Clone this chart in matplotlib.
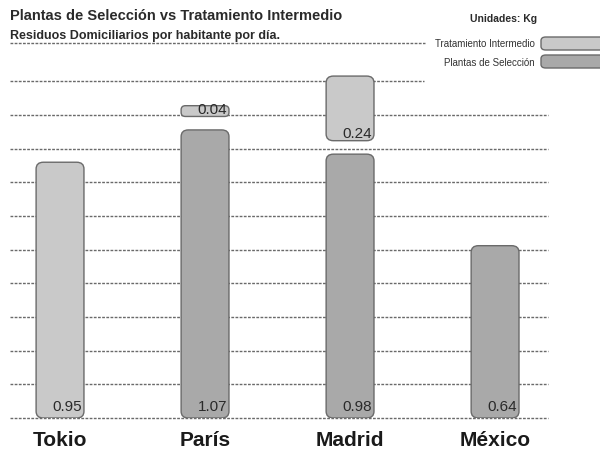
import matplotlib.pyplot as plt
from matplotlib.patches import FancyBboxPatch

plt.rcParams['font.family'] = ['Liberation Sans', 'DejaVu Sans']

cities = ['Tokio', 'París', 'Madrid', 'México']
seleccion = [0.95, 1.07, 0.98, 0.64]
intermedio = [0.0, 0.04, 0.24, 0.0]
bottom_colors = ['#c9c9c9', '#a9a9a9', '#a9a9a9', '#a9a9a9']
grid_vals = [0.125 * i for i in range(11)]

LIGHT = '#c9c9c9'
DARK = '#a9a9a9'
GAP = 0.05
W = 0.33


def rounded(ax, x, y0, h, color, r=0.05):
    box = FancyBboxPatch((x - W / 2, y0), W, h,
                         boxstyle=f'round,pad=0,rounding_size={r}',
                         mutation_aspect=0.5,
                         fc=color, ec='#6a6a6a', lw=1.0, zorder=3)
    ax.add_patch(box)


fig = plt.figure(figsize=(6, 4.51), dpi=100)
ax = fig.add_axes([10 / 600, 33 / 451, 538 / 600, 350 / 451])
ax.set_xlim(-0.345, 3.365)
ax.set_ylim(0, 1.30)
ax.axis('off')

for v in grid_vals:
    xmax = 0.77 if v == grid_vals[-1] else 1.0
    ax.axhline(v, xmin=0, xmax=xmax, color='#6a6a6a', lw=1.0,
               ls=(0, (2, 1)), zorder=1, clip_on=False)

for i, (c, s, t) in enumerate(zip(cities, seleccion, intermedio)):
    rounded(ax, i, 0, s, bottom_colors[i])
    ax.text(i + W / 2 - 0.012, 0.026, f'{s:.2f}', ha='right', va='baseline',
            fontsize=11, color='#2a2a2a', zorder=4)
    if t > 0:
        y0 = s + GAP
        rounded(ax, i, y0, t, LIGHT, r=0.03 if t < 0.1 else 0.05)
        ax.text(i + W / 2 - 0.012, y0 + 0.01, f'{t:.2f}', ha='right',
                va='baseline', fontsize=11, color='#2a2a2a', zorder=4)
    ax.text(i, -0.104, c, ha='center', va='baseline', fontsize=15,
            fontweight='bold', color='#1a1a1a')

fig.text(10 / 600, 1 - 20 / 451, 'Plantas de Selección vs Tratamiento Intermedio',
         fontsize=10.5, fontweight='bold', color='#2a2a2a', va='baseline')
fig.text(10 / 600, 1 - 39 / 451, 'Residuos Domiciliarios por habitante por día.',
         fontsize=9, fontweight='bold', color='#2a2a2a', va='baseline')
fig.lines.append(plt.Line2D([10 / 600, 425 / 600], [1 - 43 / 451, 1 - 43 / 451],
                            transform=fig.transFigure, color='#6a6a6a', lw=1.0,
                            ls=(0, (2, 1))))
fig.text(470 / 600, 1 - 22 / 451, 'Unidades: Kg', fontsize=7.5,
         fontweight='bold', color='#2a2a2a', va='baseline')
fig.text(535 / 600, 1 - 47 / 451, 'Tratamiento Intermedio', fontsize=7,
         color='#333333', ha='right', va='baseline')
fig.text(535 / 600, 1 - 66 / 451, 'Plantas de Selección', fontsize=7,
         color='#333333', ha='right', va='baseline')
for yy, col in [(37, LIGHT), (55, DARK)]:
    sw = FancyBboxPatch((541 / 600, 1 - (yy + 13) / 451), 70 / 600, 13 / 451,
                        boxstyle='round,pad=0,rounding_size=0.008',
                        transform=fig.transFigure, fc=col, ec='#6a6a6a', lw=1.0)
    fig.patches.append(sw)

fig.savefig('out.png', dpi=100, facecolor='white')
